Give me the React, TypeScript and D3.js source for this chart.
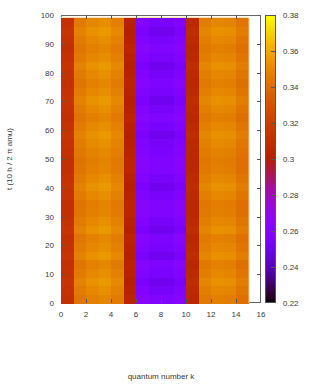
import * as d3 from "d3";
import React from "react";

// quantum number k at the cell edges, time t at the row edges
const kEdges = d3.range(0, 16); // 0..15
const tEdges = [0, 3, 6, 9, 12, 15, 18, 21, 24, 27, 30, 33, 36, 39, 42, 45, 48, 51, 54, 57, 60, 63, 66, 69, 72, 75, 78, 81, 84, 87, 90, 93, 96, 99];

const columnMean = [0.313, 0.345, 0.349, 0.351, 0.347, 0.303, 0.262, 0.257, 0.257, 0.262, 0.307, 0.346, 0.349, 0.348, 0.343];
// how strongly each column follows the row pattern
const columnSwing = [0.002, 0.003, 0.004, 0.004, 0.003, -0.003, -0.005, -0.006, -0.006, -0.005, 0.002, 0.003, 0.004, 0.004, 0.003];
// row banding seen along t (one entry per row cell)
const rowPattern = [-0.5, 0.3, 1, 0.2, -0.4, 1, 0.2, -0.3, 1, 0.3, -0.5, -0.6, 0.2, 1, 0.3, -0.5, -0.6, -0.2, 0.4, 1, 0.2, -0.5, 0.3, 1, 0.2, -0.4, 0.3, 1, 0.1, -0.5, 0.2, 1, 0.1];

const xTicks = [0, 2, 4, 6, 8, 10, 12, 14, 16];
const yTicks = [0, 10, 20, 30, 40, 50, 60, 70, 80, 90, 100];
const cbTicks = [0.22, 0.24, 0.26, 0.28, 0.3, 0.32, 0.34, 0.36, 0.38];
const cbLabels = ["0.22", "0.24", "0.26", "0.28", "0.3", "0.32", "0.34", "0.36", "0.38"];

// gnuplot rgbformulae 7,5,15
const clip = (v) => Math.max(0, Math.min(1, v));
const norm = d3.scaleLinear().domain([0.22, 0.38]).range([0, 1]).clamp(true);
const palette = (v) => {
  const s = norm(v);
  return d3.rgb(255 * clip(Math.sqrt(s)), 255 * clip(s * s * s), 255 * clip(Math.sin(2 * Math.PI * s))).formatHex();
};

const width = 309;
const height = 388;
const left = 61;
const right = 261;
const top = 15;
const bottom = 303;
const cbX = 265;
const cbW = 11;
const font = "'Liberation Sans', Arial, sans-serif";
const ink = "#3a3a3a";

export default function App() {
  const x = d3.scaleLinear().domain([0, 16]).range([left, right]);
  const y = d3.scaleLinear().domain([0, 100]).range([bottom, top]);
  const cb = d3.scaleLinear().domain([0.22, 0.38]).range([bottom, top]);

  const cells = [];
  for (let r = 0; r < tEdges.length - 1; r++) {
    for (let c = 0; c < kEdges.length - 1; c++) {
      const v = columnMean[c] + columnSwing[c] * rowPattern[r];
      cells.push({ k0: kEdges[c], k1: kEdges[c + 1], t0: tEdges[r], t1: tEdges[r + 1], v });
    }
  }
  const stops = d3.range(0, 1.0001, 0.02);

  return (
    <svg width={width} height={height} style={{ position: "absolute", left: 0, top: 0, background: "#fff" }}>
      <defs>
        <linearGradient id="cbar" x1="0" y1="1" x2="0" y2="0">
          {stops.map((s, i) => (
            <stop key={i} offset={s} stopColor={palette(0.22 + s * 0.16)} />
          ))}
        </linearGradient>
      </defs>
      {/* border first, the surface is painted over it */}
      <rect x={left + 0.5} y={top + 0.5} width={right - left - 1} height={bottom - top - 1} fill="none" stroke="#666" strokeWidth={1} />
      <g shapeRendering="crispEdges">
        {cells.map((d, i) => (
          <rect key={i} x={x(d.k0)} y={y(d.t1)} width={x(d.k1) - x(d.k0) + 0.5} height={y(d.t0) - y(d.t1) + 0.5} fill={palette(d.v)} />
        ))}
      </g>
      <line x1={x(15) + 0.5} x2={x(15) + 0.5} y1={y(99)} y2={bottom} stroke="#f2c890" strokeWidth={1} />
      <line x1={left} x2={x(15)} y1={y(99) - 0.5} y2={y(99) - 0.5} stroke="#f6dcae" strokeWidth={1} />
      {xTicks.slice(1, -1).map((t) => (
        <g key={"xt" + t} stroke="#555">
          <line x1={Math.round(x(t)) + 0.5} x2={Math.round(x(t)) + 0.5} y1={bottom} y2={bottom - 4} />
          <line x1={Math.round(x(t)) + 0.5} x2={Math.round(x(t)) + 0.5} y1={top} y2={top + 4} />
        </g>
      ))}
      {yTicks.slice(1, -1).map((t) => (
        <g key={"yt" + t} stroke="#555">
          <line x1={left} x2={left + 4} y1={Math.round(y(t)) + 0.5} y2={Math.round(y(t)) + 0.5} />
          <line x1={right - 4} x2={right} y1={Math.round(y(t)) + 0.5} y2={Math.round(y(t)) + 0.5} />
        </g>
      ))}
      <g fontFamily={font} fontSize={8} fill={ink}>
        {xTicks.map((t) => (
          <text key={"xl" + t} x={x(t)} y={bottom + 14} textAnchor="middle">{t}</text>
        ))}
        {yTicks.map((t) => (
          <text key={"yl" + t} x={left - 7} y={y(t) + 3} textAnchor="end">{t}</text>
        ))}
        <text x={161} y={379} textAnchor="middle">quantum number k</text>
        <text transform={`translate(12,${(top + bottom) / 2}) rotate(-90)`} textAnchor="middle">t (10 h / 2 π amu)</text>
      </g>
      {/* colour box */}
      <rect x={cbX} y={top} width={cbW} height={bottom - top} fill="url(#cbar)" />
      <rect x={cbX + 0.5} y={top + 0.5} width={cbW - 1} height={bottom - top - 1} fill="none" stroke="#555" strokeWidth={1} />
      {cbTicks.slice(1, -1).map((t) => (
        <line key={"ct" + t} x1={cbX + cbW - 5} x2={cbX + cbW} y1={Math.round(cb(t)) + 0.5} y2={Math.round(cb(t)) + 0.5} stroke="#555" />
      ))}
      <g fontFamily={font} fontSize={8} fill={ink}>
        {cbTicks.map((t, i) => (
          <text key={"cl" + t} x={283} y={cb(t) + 3}>{cbLabels[i]}</text>
        ))}
      </g>
    </svg>
  );
}
